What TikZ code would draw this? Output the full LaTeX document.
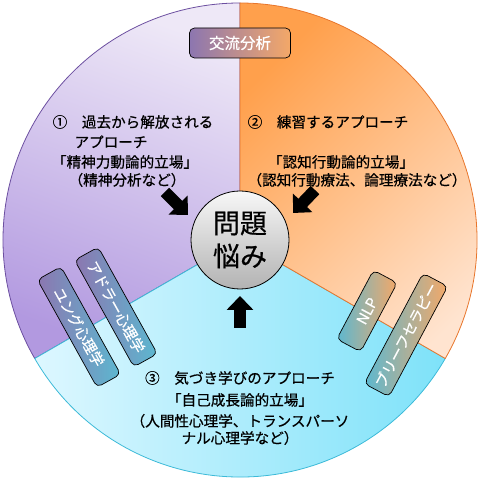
\documentclass[tikz,border=0pt]{standalone}
\usepackage{fontspec}
\setmainfont{Noto Sans CJK JP}[FakeBold=0.6]
\usetikzlibrary{arrows.meta}

\definecolor{lilaclight}{HTML}{EEE8F7}
\definecolor{lilacdark}{HTML}{B299E0}
\definecolor{lilacline}{HTML}{6C4FA0}
\definecolor{peachdark}{HTML}{FFA04C}
\definecolor{peachlight}{HTML}{FFE4D0}
\definecolor{peachline}{HTML}{E8762C}
\definecolor{skylight}{HTML}{DDF7FF}
\definecolor{skydark}{HTML}{7EE2F9}
\definecolor{skyline}{HTML}{3CBAD8}
\definecolor{boxpurple}{HTML}{8C76B0}
\definecolor{boxorange}{HTML}{F4A868}
\definecolor{boxcyan}{HTML}{5CB8D0}

\begin{document}
\begin{tikzpicture}[x=1pt, y=1pt,
    lbl/.style={anchor=base, inner sep=0pt, font=\fontsize{14.6}{18}\selectfont},
    tagbox/.style={draw=black, line width=0.7pt, rounded corners=5pt, text=white,
      inner sep=0pt, font=\fontsize{14.6}{18}\selectfont},
    bigarrow/.style={line width=12pt, -{Triangle[length=14pt,width=26pt]}}]
  \useasboundingbox (-240,-241) rectangle (240,240);
  % the three parts of the wheel
  \path[draw=lilacline, line width=0.8pt, top color=lilaclight, bottom color=lilacdark, shading angle=-20]
    (0,0) -- (90:237) arc (90:210:237) -- cycle;
  \path[draw=skyline, line width=0.8pt, left color=skylight, right color=skydark]
    (0,0) -- (210:237) arc (210:330:237) -- cycle;
  \path[draw=peachline, line width=0.8pt, top color=peachdark, bottom color=peachlight, shading angle=45]
    (0,0) -- (-30:237) arc (-30:90:237) -- cycle;

  \node[circle, draw=black, line width=0.8pt, minimum size=98pt, inner sep=0pt,
    top color=gray!6, bottom color=gray!60, align=center,
    font=\fontsize{27}{33}\selectfont] (problem) at (0,0) {問題\\悩み};

  \coordinate (t1) at (-75,48);
  \coordinate (h1) at (-52,25);
  \coordinate (t2) at (75,50);
  \coordinate (h2) at (53,27);
  \coordinate (t3) at (0,-88);
  \coordinate (h3) at (0,-56);
  \draw[bigarrow] (t1) -- (h1);
  \draw[bigarrow] (t2) -- (h2);
  \draw[bigarrow] (t3) -- (h3);

  % texts of the parts
  \node[lbl] (a1) at (-107,112.5) {①　過去から解放される};
  \node[lbl] (a2) at (-129,92.5) {アプローチ};
  \node[lbl] (a3) at (-115,72.5) {「精神力動論的立場」};
  \node[lbl] (a4) at (-113,54.5) {（精神分析など）};
  \node[lbl] (b1) at (88,112.5) {②　練習するアプローチ};
  \node[lbl] (b2) at (101,72.5) {「認知行動論的立場」};
  \node[lbl] (b3) at (117,54.5) {（認知行動療法、論理療法など）};
  \node[lbl] (c1) at (0,-143.5) {③　気づき学びのアプローチ};
  \node[lbl] (c2) at (0,-165.5) {「自己成長論的立場」};
  \node[lbl] (c3) at (0,-186.5) {（人間性心理学、トランスパーソ};
  \node[lbl] (c4) at (0,-203.5) {ナル心理学など）};

  % schools
  \node[tagbox, minimum width=101pt, minimum height=30pt, left color=boxpurple, right color=boxorange,
    font=\fontsize{15.5}{18}\selectfont] (ta) at (0,197) {交流分析};
  \node[tagbox, rotate=-61, minimum width=123pt, minimum height=27pt,
    left color=boxpurple, right color=boxcyan] (jung) at (-161,-87) {ユング心理学};
  \node[tagbox, rotate=-61, minimum width=122pt, minimum height=27pt,
    left color=boxpurple, right color=boxcyan] (adler) at (-124,-67) {アドラー心理学};
  \node[tagbox, rotate=62, minimum width=78pt, minimum height=27pt,
    left color=boxcyan, right color=boxorange] (nlp) at (127,-71) {NLP};
  \node[tagbox, rotate=62, minimum width=125pt, minimum height=28pt,
    left color=boxcyan, right color=boxorange] (brief) at (166,-95) {ブリーフセラピー};
\end{tikzpicture}
\end{document}
